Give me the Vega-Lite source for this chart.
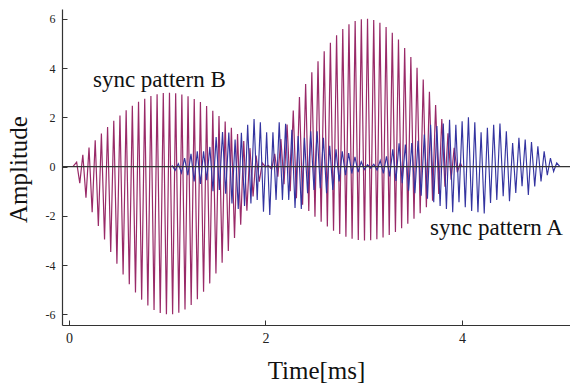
{
  "$schema": "https://vega.github.io/schema/vega-lite/v6.json",
  "width": 508,
  "height": 316,
  "autosize": {"type": "none"},
  "padding": {"left": 62, "top": 9, "right": 0, "bottom": 60},
  "background": "white",
  "config": {
    "view": {"stroke": null},
    "axis": {
      "grid": false,
      "domainColor": "#333333",
      "domainWidth": 1.2,
      "tickColor": "#333333",
      "tickWidth": 1,
      "labelFont": "Liberation Serif",
      "titleFont": "Liberation Serif",
      "labelColor": "#222222",
      "titleColor": "#111111",
      "titleFontWeight": "normal"
    }
  },
  "datasets": {
    "B": [
      {"t":0.04,"v":0},{"t":0.078,"v":0.18},{"t":0.11,"v":-0.67},{"t":0.141,"v":0.48},{"t":0.173,"v":-1.26},{"t":0.204,"v":0.78},{"t":0.236,"v":-1.85},{"t":0.267,"v":1.07},{"t":0.299,"v":-2.41},{"t":0.33,"v":1.34},{"t":0.362,"v":-2.96},{"t":0.393,"v":1.61},{"t":0.425,"v":-3.47},{"t":0.456,"v":1.86},{"t":0.488,"v":-3.94},{"t":0.519,"v":2.08},{"t":0.551,"v":-4.38},{"t":0.582,"v":2.29},{"t":0.614,"v":-4.77},{"t":0.645,"v":2.47},{"t":0.677,"v":-5.11},{"t":0.708,"v":2.63},{"t":0.74,"v":-5.4},{"t":0.771,"v":2.76},{"t":0.803,"v":-5.64},{"t":0.834,"v":2.87},{"t":0.866,"v":-5.82},{"t":0.897,"v":2.94},{"t":0.929,"v":-5.94},{"t":0.96,"v":2.99},{"t":0.992,"v":-5.99},{"t":1.023,"v":3.0},{"t":1.055,"v":-5.99},{"t":1.086,"v":2.98},{"t":1.118,"v":-5.93},{"t":1.149,"v":2.93},{"t":1.181,"v":-5.8},{"t":1.212,"v":2.86},{"t":1.244,"v":-5.62},{"t":1.275,"v":2.75},{"t":1.307,"v":-5.38},{"t":1.338,"v":2.62},{"t":1.37,"v":-5.08},{"t":1.401,"v":2.46},{"t":1.433,"v":-4.74},{"t":1.464,"v":2.27},{"t":1.496,"v":-4.34},{"t":1.527,"v":2.06},{"t":1.559,"v":-3.9},{"t":1.59,"v":1.83},{"t":1.622,"v":-3.42},{"t":1.653,"v":1.58},{"t":1.685,"v":-2.9},{"t":1.716,"v":1.32},{"t":1.748,"v":-2.36},{"t":1.779,"v":1.04},{"t":1.811,"v":-1.79},{"t":1.842,"v":0.75},{"t":1.874,"v":-1.21},{"t":1.905,"v":0.45},{"t":1.937,"v":-0.61},{"t":1.968,"v":0.15},{"t":2.0,"v":-0.01},{"t":2.031,"v":0.05},{"t":2.063,"v":-0.11},{"t":2.094,"v":0.52},{"t":2.126,"v":-0.41},{"t":2.157,"v":1.12},{"t":2.189,"v":-0.71},{"t":2.22,"v":1.71},{"t":2.252,"v":-1.0},{"t":2.283,"v":2.28},{"t":2.315,"v":-1.28},{"t":2.346,"v":2.83},{"t":2.378,"v":-1.55},{"t":2.409,"v":3.35},{"t":2.441,"v":-1.8},{"t":2.472,"v":3.83},{"t":2.504,"v":-2.03},{"t":2.535,"v":4.28},{"t":2.567,"v":-2.24},{"t":2.598,"v":4.68},{"t":2.63,"v":-2.43},{"t":2.661,"v":5.03},{"t":2.693,"v":-2.6},{"t":2.724,"v":5.33},{"t":2.756,"v":-2.73},{"t":2.787,"v":5.59},{"t":2.819,"v":-2.85},{"t":2.85,"v":5.78},{"t":2.882,"v":-2.93},{"t":2.913,"v":5.91},{"t":2.945,"v":-2.98},{"t":2.976,"v":5.98},{"t":3.008,"v":-3.0},{"t":3.039,"v":6.0},{"t":3.071,"v":-2.99},{"t":3.102,"v":5.95},{"t":3.134,"v":-2.95},{"t":3.165,"v":5.84},{"t":3.197,"v":-2.88},{"t":3.228,"v":5.67},{"t":3.26,"v":-2.78},{"t":3.291,"v":5.44},{"t":3.323,"v":-2.65},{"t":3.354,"v":5.16},{"t":3.386,"v":-2.5},{"t":3.417,"v":4.82},{"t":3.449,"v":-2.32},{"t":3.48,"v":4.45},{"t":3.512,"v":-2.12},{"t":3.543,"v":4.01},{"t":3.575,"v":-1.89},{"t":3.606,"v":3.54},{"t":3.638,"v":-1.65},{"t":3.669,"v":3.04},{"t":3.701,"v":-1.38},{"t":3.732,"v":2.5},{"t":3.764,"v":-1.11},{"t":3.795,"v":1.93},{"t":3.827,"v":-0.82},{"t":3.858,"v":1.35},{"t":3.89,"v":-0.53},{"t":3.921,"v":0.76},{"t":3.953,"v":-0.23},{"t":3.984,"v":0.15},{"t":4.0,"v":0}
    ],
    "A": [
      {"t":1.049,"v":0.05},{"t":1.081,"v":-0.15},{"t":1.113,"v":0.12},{"t":1.145,"v":-0.25},{"t":1.177,"v":0.35},{"t":1.21,"v":-0.35},{"t":1.242,"v":0.52},{"t":1.274,"v":-0.6},{"t":1.306,"v":0.62},{"t":1.338,"v":-0.7},{"t":1.37,"v":0.62},{"t":1.402,"v":-0.55},{"t":1.434,"v":0.8},{"t":1.466,"v":-1.0},{"t":1.498,"v":1.2},{"t":1.531,"v":-0.95},{"t":1.563,"v":1.4},{"t":1.595,"v":-1.1},{"t":1.627,"v":1.38},{"t":1.659,"v":-1.5},{"t":1.691,"v":1.1},{"t":1.723,"v":-1.72},{"t":1.755,"v":1.37},{"t":1.787,"v":-1.6},{"t":1.819,"v":1.7},{"t":1.852,"v":-1.5},{"t":1.884,"v":1.93},{"t":1.916,"v":-1.35},{"t":1.948,"v":1.8},{"t":1.98,"v":-1.83},{"t":2.012,"v":1.39},{"t":2.044,"v":-1.96},{"t":2.076,"v":1.39},{"t":2.108,"v":-1.35},{"t":2.14,"v":1.8},{"t":2.173,"v":-1.35},{"t":2.205,"v":1.74},{"t":2.237,"v":-1.35},{"t":2.269,"v":1.5},{"t":2.301,"v":-1.68},{"t":2.333,"v":1.24},{"t":2.365,"v":-1.72},{"t":2.397,"v":1.17},{"t":2.429,"v":-1.08},{"t":2.461,"v":1.44},{"t":2.494,"v":-0.95},{"t":2.526,"v":1.44},{"t":2.558,"v":-0.88},{"t":2.59,"v":1.17},{"t":2.622,"v":-1.08},{"t":2.654,"v":0.85},{"t":2.686,"v":-0.95},{"t":2.718,"v":0.7},{"t":2.75,"v":-0.6},{"t":2.782,"v":0.62},{"t":2.815,"v":-0.35},{"t":2.847,"v":0.55},{"t":2.879,"v":-0.28},{"t":2.911,"v":0.4},{"t":2.943,"v":-0.22},{"t":2.975,"v":0.2},{"t":3.007,"v":-0.12},{"t":3.039,"v":0.08},{"t":3.071,"v":-0.06},{"t":3.103,"v":0.1},{"t":3.136,"v":-0.14},{"t":3.168,"v":0.25},{"t":3.2,"v":-0.27},{"t":3.232,"v":0.42},{"t":3.264,"v":-0.4},{"t":3.296,"v":0.7},{"t":3.328,"v":-0.58},{"t":3.36,"v":0.95},{"t":3.392,"v":-0.67},{"t":3.424,"v":0.9},{"t":3.457,"v":-0.98},{"t":3.489,"v":0.96},{"t":3.521,"v":-1.08},{"t":3.553,"v":1.05},{"t":3.585,"v":-1.18},{"t":3.617,"v":1.3},{"t":3.649,"v":-1.3},{"t":3.681,"v":1.7},{"t":3.713,"v":-1.45},{"t":3.745,"v":1.65},{"t":3.778,"v":-1.6},{"t":3.81,"v":1.75},{"t":3.842,"v":-1.72},{"t":3.874,"v":1.9},{"t":3.906,"v":-1.85},{"t":3.938,"v":1.7},{"t":3.97,"v":-1.45},{"t":4.002,"v":1.84},{"t":4.034,"v":-1.65},{"t":4.066,"v":2.0},{"t":4.099,"v":-1.8},{"t":4.131,"v":1.8},{"t":4.163,"v":-1.85},{"t":4.195,"v":1.4},{"t":4.227,"v":-1.9},{"t":4.259,"v":1.58},{"t":4.291,"v":-1.48},{"t":4.323,"v":1.7},{"t":4.355,"v":-1.35},{"t":4.387,"v":1.75},{"t":4.42,"v":-1.2},{"t":4.452,"v":1.44},{"t":4.484,"v":-1.4},{"t":4.516,"v":0.96},{"t":4.548,"v":-1.07},{"t":4.58,"v":1.17},{"t":4.612,"v":-0.8},{"t":4.644,"v":1.1},{"t":4.676,"v":-1.15},{"t":4.708,"v":1.0},{"t":4.741,"v":-0.8},{"t":4.773,"v":0.83},{"t":4.805,"v":-0.6},{"t":4.837,"v":0.62},{"t":4.869,"v":-0.35},{"t":4.901,"v":0.35},{"t":4.933,"v":-0.2},{"t":4.965,"v":0.15},{"t":4.997,"v":0}
    ],
    "labels": [
      {"t":0.244,"v":3.23,"label":"sync pattern B"},
      {"t":3.676,"v":-2.78,"label":"sync pattern A"}
    ],
    "zero": [{"v":0}]
  },
  "layer": [
    {
      "data": {"name": "B"},
      "mark": {"type": "line", "color": "#992a68", "strokeWidth": 1.2, "clip": true},
      "encoding": {
        "x": {
          "field": "t", "type": "quantitative",
          "scale": {"domain": [-0.071, 5.1], "nice": false, "zero": false},
          "axis": {
            "values": [0, 2, 4],
            "labelExpr": "toString(datum.value)",
            "labelFont": "Liberation Serif",
            "titleFont": "Liberation Serif",
            "title": "Time[ms]",
            "titleFontSize": 25,
            "labelFontSize": 14,
            "tickSize": -5,
            "labelPadding": 11,
            "titleX": 254,
            "titleY": 45,
            "titleBaseline": "middle",
            "titleAlign": "center"
          }
        },
        "y": {
          "field": "v", "type": "quantitative",
          "scale": {"domain": [-6.43, 6.4], "nice": false, "zero": false},
          "axis": {
            "values": [-6, -5.5, -5, -4.5, -4, -3.5, -3, -2.5, -2, -1.5, -1, -0.5, 0, 0.5, 1, 1.5, 2, 2.5, 3, 3.5, 4, 4.5, 5, 5.5, 6],
            "labelExpr": "datum.value % 2 === 0 ? toString(datum.value) : ''",
            "labelFont": "Liberation Serif",
            "titleFont": "Liberation Serif",
            "tickSize": {"condition": {"test": "datum.value % 2 === 0", "value": -5}, "value": -3},
            "labelPadding": 12,
            "labelFontSize": 12,
            "title": "Amplitude",
            "titleFontSize": 25,
            "titleAngle": 270,
            "titleX": -44,
            "titleY": 160,
            "titleBaseline": "middle",
            "titleAlign": "center"
          }
        }
      }
    },
    {
      "data": {"name": "A"},
      "mark": {"type": "line", "color": "#3434a0", "strokeWidth": 1.15, "clip": true},
      "encoding": {
        "x": {"field": "t", "type": "quantitative"},
        "y": {"field": "v", "type": "quantitative"}
      }
    },
    {
      "data": {"name": "zero"},
      "mark": {"type": "rule", "color": "#333333", "strokeWidth": 1.2},
      "encoding": {"y": {"field": "v", "type": "quantitative"}}
    },
    {
      "data": {"name": "labels"},
      "mark": {"type": "text", "font": "Liberation Serif", "fontSize": 23, "align": "left", "baseline": "alphabetic", "color": "#111111"},
      "encoding": {
        "x": {"field": "t", "type": "quantitative"},
        "y": {"field": "v", "type": "quantitative"},
        "text": {"field": "label"}
      }
    }
  ]
}
